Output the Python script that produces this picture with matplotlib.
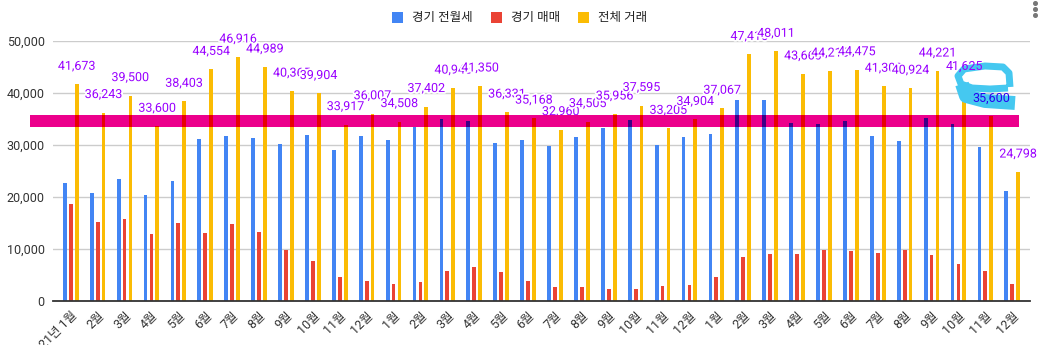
import numpy as np
import matplotlib.pyplot as plt
import matplotlib.patheffects as pe
from matplotlib.patches import Rectangle
from matplotlib.lines import Line2D

plt.rcParams['font.family'] = ['Roboto', 'Noto Sans CJK KR', 'DejaVu Sans']

# monthly transactions, Jan 2021 .. Dec 2023
months = ['21년 1월', '2월', '3월', '4월', '5월', '6월', '7월', '8월', '9월', '10월', '11월', '12월',
          '1월', '2월', '3월', '4월', '5월', '6월', '7월', '8월', '9월', '10월', '11월', '12월',
          '1월', '2월', '3월', '4월', '5월', '6월', '7월', '8월', '9월', '10월', '11월', '12월']

rent = [22700, 20700, 23400, 20300, 23000, 31100, 31700, 31300, 30200, 31900, 29000, 31800,
        30900, 33400, 35000, 34600, 30400, 30900, 29800, 31600, 33300, 34900, 30000, 31500,
        32100, 38600, 38600, 34300, 34000, 34600, 31700, 30700, 35200, 34100, 29600, 21100]

sale = [18700, 15100, 15800, 12800, 15000, 13000, 14800, 13200, 9800, 7600, 4600, 3800,
        3200, 3600, 5700, 6500, 5500, 3800, 2600, 2600, 2400, 2400, 2900, 3000,
        4600, 8400, 9000, 9000, 9800, 9600, 9200, 9800, 8800, 7100, 5700, 3200]

total = [41673, 36243, 39500, 33600, 38403, 44554, 46916, 44989, 40365, 39904, 33917, 36007,
         34508, 37402, 40945, 41350, 36331, 35168, 32960, 34505, 35956, 37595, 33205, 34904,
         37067, 47415, 48011, 43660, 44215, 44475, 41300, 40924, 44221, 41625, 35600, 24798]

series_names = ['경기 전월세', '경기 매매', '전체 거래']
colors = ['#4285F4', '#EA4335', '#FBBC04']
highlight = '#EC008C'
marker_ink = '#45C8F0'
W, H = 1040, 345


def multiply(c1, c2):
    a = np.array(plt.matplotlib.colors.to_rgb(c1))
    b = np.array(plt.matplotlib.colors.to_rgb(c2))
    return tuple(a * b)


def px(x, y):
    # figure pixel position (origin top-left) -> figure fraction
    return x / W, 1 - y / H


fig = plt.figure(figsize=(W / 100, H / 100), dpi=100)
ax = fig.add_axes([53 / W, 44 / H, 977 / W, 260 / H])

x = np.arange(len(months))
offsets = [-0.22, 0, 0.22]
bw = 0.14
data = [rent, sale, total]

for vals, off, col in zip(data, offsets, colors):
    ax.bar(x + off, vals, width=bw, color=col, zorder=2)

ax.set_xlim(-0.66, len(months) - 0.34)
ax.set_ylim(0, 50000)
ax.set_yticks(np.arange(0, 50001, 10000))
ax.set_yticklabels([f'{v:,}' for v in range(0, 50001, 10000)])
ax.set_xticks(x)
ax.set_xticklabels(months, rotation=45, ha='right', va='top', rotation_mode='anchor')
ax.tick_params(axis='both', length=0, labelsize=9, labelcolor='#333333')
ax.tick_params(axis='x', pad=6)
ax.tick_params(axis='y', pad=6)
ax.grid(axis='y', color='#CCCCCC', linewidth=1, zorder=0)
ax.set_axisbelow(True)
for s in ['top', 'right', 'left']:
    ax.spines[s].set_visible(False)
ax.spines['bottom'].set_color('#333333')
ax.spines['bottom'].set_linewidth(1.3)
ax.spines['bottom'].set_zorder(3)

# value labels over the total bars
for i, v in enumerate(total):
    txt = ax.annotate(f'{v:,}', (x[i] + offsets[2], v), xytext=(0, 18),
                      textcoords='offset pixels', ha='center', va='center',
                      fontsize=9, color='#9900FF', zorder=5, annotation_clip=False)
    if i == 34:
        # this one sits under the marker ink
        txt.set_color(multiply('#9900FF', marker_ink))
        txt.set_zorder(9)
    elif i == 33:
        txt.set_zorder(9)
    else:
        txt.set_path_effects([pe.withStroke(linewidth=2.5, foreground='white')])

# highlighter band across the chart
y0, y1 = 33460, 35770
band = Rectangle((-1.515, y0), 36.765, y1 - y0, facecolor=highlight,
                 edgecolor='none', zorder=6, clip_on=False)
ax.add_patch(band)
for vals, off, col in zip(data, offsets, colors):
    bars = ax.bar(x + off, vals, width=bw, color=multiply(col, highlight), zorder=7)
    for b in bars:
        b.set_clip_path(band)

# hand-drawn loop near the end
loop = [(1008, 88), (990, 89), (972, 88), (961, 84), (958, 76), (964, 69), (985, 66),
        (1003, 67), (1009, 73), (1010, 87)]
tail = [(962, 84), (966, 96), (985, 101), (1015, 103)]
for pts, lw in [(loop, 5), (tail, 10)]:
    xs, ys = zip(*[px(*p) for p in pts])
    ax.add_line(Line2D(xs, ys, transform=fig.transFigure, color=marker_ink,
                       linewidth=lw, solid_capstyle='butt', solid_joinstyle='round',
                       zorder=8, clip_on=False))

# legend
lx = [392, 491, 578]
for name, col, lxi in zip(series_names, colors, lx):
    fx, fy = px(lxi, 23)
    fig.add_artist(Rectangle((fx, fy), 11 / W, 11 / H, transform=fig.transFigure,
                             facecolor=col, edgecolor='none'))
    tx, ty = px(lxi + 20, 17)
    fig.text(tx, ty, name, fontsize=9, color='#222222', va='center', ha='left')

# menu dots
for yy in [3, 9, 15]:
    dx, dy = px(1035, yy)
    fig.add_artist(Line2D([dx], [dy], marker='o', markersize=2.6, color='#777777',
                          transform=fig.transFigure))

fig.savefig('out.png', dpi=100)
